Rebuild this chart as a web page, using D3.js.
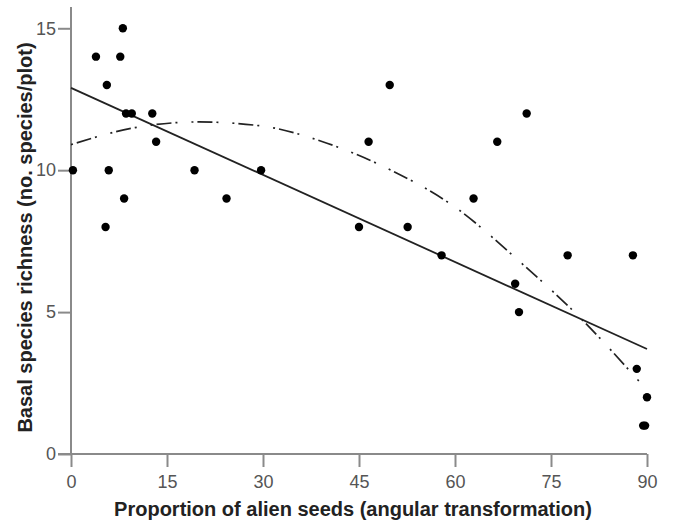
<!DOCTYPE html>
<html>
<head>
<meta charset="utf-8">
<script src="https://cdn.jsdelivr.net/npm/d3@7"></script>
<style>
  body { margin: 0; background: #fff; }
  svg { font-family: "Liberation Sans", Arial, sans-serif; }
</style>
</head>
<body>
<svg id="scatter" width="673" height="521"></svg>
<script>
// observed plots: x = alien seeds (angular), y = basal species richness
var seedsX = [0.3, 3.9, 5.4, 5.6, 5.9, 7.7, 8.1, 8.3, 8.6, 9.5, 12.7, 13.3, 19.3, 24.3, 29.7,
  45.0, 46.5, 49.8, 52.6, 57.9, 62.9, 66.6, 69.4, 70.0, 71.2, 77.6, 87.8, 88.4, 90.0, 89.7, 89.4];
var richnessY = [10, 14, 8, 13, 10, 14, 15, 9, 12, 12, 12, 11, 10, 9, 10,
  8, 11, 13, 8, 7, 9, 11, 6, 5, 12, 7, 7, 3, 2, 1, 1];

// linear fit (solid line), end points
var linearX = [0, 90];
var linearY = [12.9, 3.7];

// quadratic fit (dash-dot line)
var quadX = [0, 10, 20, 30, 40, 50, 60, 70, 80, 89];
var quadY = [10.9, 11.5, 11.7, 11.55, 10.95, 10.0, 8.7, 6.8, 4.7, 2.5];

var xTicks = [0, 15, 30, 45, 60, 75, 90];
var yTicks = [0, 5, 10, 15];

function initScatter() {
  var svgEl = d3.select("#scatter");

  var margin = { top: 7, right: 26, bottom: 67, left: 71 },
    width = svgEl.attr("width") - margin.left - margin.right,
    height = svgEl.attr("height") - margin.top - margin.bottom;

  var svg = svgEl.append("g")
    .attr("transform", "translate(" + margin.left + "," + margin.top + ")");

  var x = d3.scaleLinear().domain([0, 90]).range([0, width]);
  var y = d3.scaleLinear().domain([0, 15.75]).range([height, 0]);

  // X axis
  var gx = svg.append("g")
    .attr("transform", "translate(0," + height + ")")
    .call(d3.axisBottom(x).tickValues(xTicks).tickSize(13).tickPadding(8).tickSizeOuter(0));
  gx.select(".domain").attr("stroke", "#8a8a8a").attr("stroke-width", 2)
    .attr("d", "M-13,0H" + width);
  gx.selectAll(".tick line").attr("stroke", "#8a8a8a").attr("stroke-width", 2);
  gx.selectAll("text").attr("font-family", undefined).attr("font-size", 18).attr("fill", "#555");

  // Y axis
  var gy = svg.append("g")
    .call(d3.axisLeft(y).tickValues(yTicks).tickSize(13).tickPadding(2).tickSizeOuter(0));
  gy.select(".domain").attr("stroke", "#8a8a8a").attr("stroke-width", 2)
    .attr("d", "M0," + height + "V0");
  gy.selectAll(".tick line").attr("stroke", "#8a8a8a").attr("stroke-width", 2);
  gy.selectAll("text").attr("font-family", undefined).attr("font-size", 18).attr("fill", "#555");

  // axis titles
  svg.append("text")
    .attr("x", width / 2 - 6)
    .attr("y", height + 62)
    .attr("text-anchor", "middle")
    .attr("font-size", 20)
    .attr("font-weight", "bold")
    .attr("fill", "#222")
    .text("Proportion of alien seeds (angular transformation)");

  svg.append("text")
    .attr("transform", "translate(-39," + (height / 2 + 7) + ") rotate(-90)")
    .attr("text-anchor", "middle")
    .attr("font-size", 20)
    .attr("font-weight", "bold")
    .attr("fill", "#222")
    .text("Basal species richness (no. species/plot)");

  var line = d3.line()
    .x(function (d) { return x(d[0]); })
    .y(function (d) { return y(d[1]); });

  // quadratic fit
  svg.append("path")
    .datum(d3.zip(quadX, quadY))
    .attr("fill", "none")
    .attr("stroke", "#222")
    .attr("stroke-width", 1.7)
    .attr("stroke-dasharray", "2,4,15,4,2,14")
    .attr("d", line.curve(d3.curveMonotoneX));

  // linear fit
  svg.append("path")
    .datum(d3.zip(linearX, linearY))
    .attr("fill", "none")
    .attr("stroke", "#222")
    .attr("stroke-width", 1.8)
    .attr("d", line.curve(d3.curveLinear));

  // points
  svg.selectAll("circle.pt")
    .data(d3.zip(seedsX, richnessY))
    .enter()
    .append("circle")
    .attr("class", "pt")
    .attr("cx", function (d) { return x(d[0]); })
    .attr("cy", function (d) { return y(d[1]); })
    .attr("r", 4.2)
    .attr("fill", "#000");
}
initScatter();
</script>
</body>
</html>
